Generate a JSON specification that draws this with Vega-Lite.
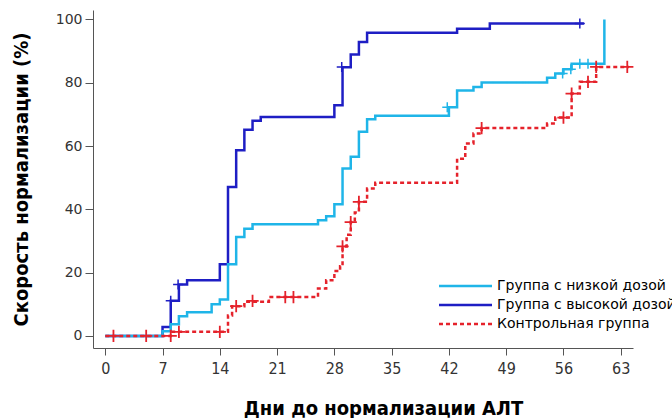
{
  "$schema": "https://vega.github.io/schema/vega-lite/v6.json",
  "width": 540,
  "height": 338,
  "autosize": {"type": "none"},
  "padding": {"left": 93, "top": 10, "right": 39, "bottom": 70},
  "background": "white",
  "config": {
    "view": {"stroke": null},
    "axis": {"grid": false, "domainColor": "#555555", "tickColor": "#555555", "labelColor": "#333333", "titleColor": "#000000"}
  },
  "data": {
    "values": [
      {"group": "Группа с высокой дозой", "kind": "step", "day": 0, "pct": 0},
      {"group": "Группа с высокой дозой", "kind": "step", "day": 7, "pct": 2.8},
      {"group": "Группа с высокой дозой", "kind": "step", "day": 8, "pct": 11.1},
      {"group": "Группа с высокой дозой", "kind": "step", "day": 9, "pct": 16.3},
      {"group": "Группа с высокой дозой", "kind": "step", "day": 10, "pct": 17.6},
      {"group": "Группа с высокой дозой", "kind": "step", "day": 14, "pct": 22.7},
      {"group": "Группа с высокой дозой", "kind": "step", "day": 15, "pct": 47.1},
      {"group": "Группа с высокой дозой", "kind": "step", "day": 16, "pct": 58.7},
      {"group": "Группа с высокой дозой", "kind": "step", "day": 17, "pct": 65.2},
      {"group": "Группа с высокой дозой", "kind": "step", "day": 18, "pct": 68},
      {"group": "Группа с высокой дозой", "kind": "step", "day": 19, "pct": 69.2},
      {"group": "Группа с высокой дозой", "kind": "step", "day": 28, "pct": 72.9},
      {"group": "Группа с высокой дозой", "kind": "step", "day": 29, "pct": 84.9},
      {"group": "Группа с высокой дозой", "kind": "step", "day": 30, "pct": 88.9},
      {"group": "Группа с высокой дозой", "kind": "step", "day": 31, "pct": 92.9},
      {"group": "Группа с высокой дозой", "kind": "step", "day": 32, "pct": 95.8},
      {"group": "Группа с высокой дозой", "kind": "step", "day": 43, "pct": 97.1},
      {"group": "Группа с высокой дозой", "kind": "step", "day": 47, "pct": 98.7},
      {"group": "Группа с высокой дозой", "kind": "step", "day": 58.5, "pct": 98.7},
      {"group": "Группа с низкой дозой", "kind": "step", "day": 0, "pct": 0},
      {"group": "Группа с низкой дозой", "kind": "step", "day": 7, "pct": 1.5},
      {"group": "Группа с низкой дозой", "kind": "step", "day": 8, "pct": 3.7},
      {"group": "Группа с низкой дозой", "kind": "step", "day": 9, "pct": 6.2},
      {"group": "Группа с низкой дозой", "kind": "step", "day": 10, "pct": 7.5},
      {"group": "Группа с низкой дозой", "kind": "step", "day": 13, "pct": 10},
      {"group": "Группа с низкой дозой", "kind": "step", "day": 14, "pct": 11.5},
      {"group": "Группа с низкой дозой", "kind": "step", "day": 15, "pct": 22.7},
      {"group": "Группа с низкой дозой", "kind": "step", "day": 16, "pct": 31.3},
      {"group": "Группа с низкой дозой", "kind": "step", "day": 17, "pct": 33.9},
      {"group": "Группа с низкой дозой", "kind": "step", "day": 18, "pct": 35.3},
      {"group": "Группа с низкой дозой", "kind": "step", "day": 26, "pct": 36.6},
      {"group": "Группа с низкой дозой", "kind": "step", "day": 27, "pct": 37.8},
      {"group": "Группа с низкой дозой", "kind": "step", "day": 28, "pct": 41.6},
      {"group": "Группа с низкой дозой", "kind": "step", "day": 29, "pct": 52.9},
      {"group": "Группа с низкой дозой", "kind": "step", "day": 30, "pct": 56.6},
      {"group": "Группа с низкой дозой", "kind": "step", "day": 31, "pct": 64.5},
      {"group": "Группа с низкой дозой", "kind": "step", "day": 32, "pct": 68.5},
      {"group": "Группа с низкой дозой", "kind": "step", "day": 33, "pct": 69.6},
      {"group": "Группа с низкой дозой", "kind": "step", "day": 42, "pct": 72.3},
      {"group": "Группа с низкой дозой", "kind": "step", "day": 43, "pct": 77.6},
      {"group": "Группа с низкой дозой", "kind": "step", "day": 45, "pct": 78.7},
      {"group": "Группа с низкой дозой", "kind": "step", "day": 46, "pct": 80.1},
      {"group": "Группа с низкой дозой", "kind": "step", "day": 54, "pct": 81.6},
      {"group": "Группа с низкой дозой", "kind": "step", "day": 55, "pct": 82.9},
      {"group": "Группа с низкой дозой", "kind": "step", "day": 56, "pct": 84.3},
      {"group": "Группа с низкой дозой", "kind": "step", "day": 57, "pct": 86},
      {"group": "Группа с низкой дозой", "kind": "step", "day": 61, "pct": 100},
      {"group": "Контрольная группа", "kind": "step", "day": 0, "pct": 0},
      {"group": "Контрольная группа", "kind": "step", "day": 8, "pct": 1.3},
      {"group": "Контрольная группа", "kind": "step", "day": 15, "pct": 6.5},
      {"group": "Контрольная группа", "kind": "step", "day": 15.5, "pct": 9.4},
      {"group": "Контрольная группа", "kind": "step", "day": 17, "pct": 10.8},
      {"group": "Контрольная группа", "kind": "step", "day": 20, "pct": 12.3},
      {"group": "Контрольная группа", "kind": "step", "day": 26, "pct": 15},
      {"group": "Контрольная группа", "kind": "step", "day": 27, "pct": 17.6},
      {"group": "Контрольная группа", "kind": "step", "day": 28, "pct": 20.5},
      {"group": "Контрольная группа", "kind": "step", "day": 28.7, "pct": 22},
      {"group": "Контрольная группа", "kind": "step", "day": 29, "pct": 28.3},
      {"group": "Контрольная группа", "kind": "step", "day": 29.5, "pct": 32},
      {"group": "Контрольная группа", "kind": "step", "day": 30, "pct": 36},
      {"group": "Контрольная группа", "kind": "step", "day": 30.5, "pct": 39},
      {"group": "Контрольная группа", "kind": "step", "day": 31, "pct": 42.4},
      {"group": "Контрольная группа", "kind": "step", "day": 32, "pct": 46.6},
      {"group": "Контрольная группа", "kind": "step", "day": 33, "pct": 48.4},
      {"group": "Контрольная группа", "kind": "step", "day": 43, "pct": 56},
      {"group": "Контрольная группа", "kind": "step", "day": 44, "pct": 60.8},
      {"group": "Контрольная группа", "kind": "step", "day": 45, "pct": 64},
      {"group": "Контрольная группа", "kind": "step", "day": 46, "pct": 65.7},
      {"group": "Контрольная группа", "kind": "step", "day": 54, "pct": 67.1},
      {"group": "Контрольная группа", "kind": "step", "day": 55, "pct": 69},
      {"group": "Контрольная группа", "kind": "step", "day": 57, "pct": 76.6},
      {"group": "Контрольная группа", "kind": "step", "day": 58, "pct": 80.3},
      {"group": "Контрольная группа", "kind": "step", "day": 60, "pct": 85},
      {"group": "Контрольная группа", "kind": "step", "day": 64, "pct": 85},
      {"group": "Группа с высокой дозой", "kind": "censor", "day": 8, "pct": 11.1},
      {"group": "Группа с высокой дозой", "kind": "censor", "day": 8.9, "pct": 16.3},
      {"group": "Группа с высокой дозой", "kind": "censor", "day": 28.9, "pct": 85},
      {"group": "Группа с высокой дозой", "kind": "censor", "day": 58, "pct": 98.7},
      {"group": "Группа с низкой дозой", "kind": "censor", "day": 41.8, "pct": 72.3},
      {"group": "Группа с низкой дозой", "kind": "censor", "day": 55.9, "pct": 82.9},
      {"group": "Группа с низкой дозой", "kind": "censor", "day": 56.9, "pct": 84.3},
      {"group": "Группа с низкой дозой", "kind": "censor", "day": 58, "pct": 86},
      {"group": "Группа с низкой дозой", "kind": "censor", "day": 59, "pct": 86},
      {"group": "Контрольная группа", "kind": "censor", "day": 1, "pct": 0},
      {"group": "Контрольная группа", "kind": "censor", "day": 5, "pct": 0},
      {"group": "Контрольная группа", "kind": "censor", "day": 8, "pct": 0},
      {"group": "Контрольная группа", "kind": "censor", "day": 9, "pct": 1.3},
      {"group": "Контрольная группа", "kind": "censor", "day": 14, "pct": 1.3},
      {"group": "Контрольная группа", "kind": "censor", "day": 16, "pct": 9.4},
      {"group": "Контрольная группа", "kind": "censor", "day": 18, "pct": 11.1},
      {"group": "Контрольная группа", "kind": "censor", "day": 22, "pct": 12.3},
      {"group": "Контрольная группа", "kind": "censor", "day": 23, "pct": 12.3},
      {"group": "Контрольная группа", "kind": "censor", "day": 29, "pct": 28.3},
      {"group": "Контрольная группа", "kind": "censor", "day": 30, "pct": 36},
      {"group": "Контрольная группа", "kind": "censor", "day": 31, "pct": 42.4},
      {"group": "Контрольная группа", "kind": "censor", "day": 46, "pct": 65.7},
      {"group": "Контрольная группа", "kind": "censor", "day": 56, "pct": 69},
      {"group": "Контрольная группа", "kind": "censor", "day": 57, "pct": 76.6},
      {"group": "Контрольная группа", "kind": "censor", "day": 59, "pct": 80.3},
      {"group": "Контрольная группа", "kind": "censor", "day": 60, "pct": 85},
      {"group": "Контрольная группа", "kind": "censor", "day": 63.8, "pct": 85}
    ]
  },
  "encoding": {
    "x": {
      "field": "day", "type": "quantitative",
      "scale": {"domain": [-1.5, 64.5], "nice": false, "zero": false},
      "axis": {
        "values": [0, 7, 14, 21, 28, 35, 42, 49, 56, 63],
        "title": "Дни до нормализации АЛТ",
        "titleFont": "Liberation Sans Narrow, DejaVu Sans Condensed, sans-serif",
        "titleFontSize": 20, "titleFontWeight": "bold",
        "titleX": 290, "titleY": 66, "titleBaseline": "alphabetic", "titleAlign": "center",
        "labelFont": "Liberation Sans Narrow, DejaVu Sans Condensed, sans-serif",
        "labelFontSize": 16, "tickSize": 7, "labelPadding": 5
      }
    },
    "y": {
      "field": "pct", "type": "quantitative",
      "scale": {"domain": [-3.8, 103], "nice": false, "zero": false},
      "axis": {
        "values": [0, 20, 40, 60, 80, 100],
        "title": "Скорость нормализации (%)",
        "titleFont": "Liberation Sans Narrow, DejaVu Sans Condensed, sans-serif",
        "titleFontSize": 20, "titleFontWeight": "bold",
        "titleX": -66, "titleBaseline": "alphabetic",
        "labelFont": "DejaVu Sans", "labelFontSize": 14, "tickSize": 8, "labelPadding": 3
      }
    },
    "color": {
      "field": "group", "type": "nominal",
      "scale": {
        "domain": ["Группа с низкой дозой", "Группа с высокой дозой", "Контрольная группа"],
        "range": ["#1fb5e8", "#1e1ec4", "#e5222b"]
      },
      "legend": {
        "title": null, "orient": "none", "legendX": 344, "legendY": 269,
        "symbolType": "M-1,0H9.6", "symbolSize": 100, "symbolStrokeWidth": 2.5,
        "labelFont": "DejaVu Sans", "labelFontSize": 14, "labelColor": "#000000",
        "labelOffset": 46, "rowPadding": 5, "labelLimit": 400
      }
    }
  },
  "layer": [
    {
      "transform": [{"filter": "datum.kind === 'step'"}],
      "mark": {"type": "line", "interpolate": "step-after", "strokeWidth": 2.5},
      "encoding": {
        "strokeDash": {
          "field": "group", "type": "nominal",
          "scale": {
            "domain": ["Группа с низкой дозой", "Группа с высокой дозой", "Контрольная группа"],
            "range": [[1, 0], [1, 0], [4, 3]]
          },
          "legend": {
            "title": null, "orient": "none", "legendX": 344, "legendY": 269,
            "symbolType": "M-1,0H9.6", "symbolSize": 100, "symbolStrokeWidth": 2.5,
            "labelFont": "DejaVu Sans", "labelFontSize": 14, "labelColor": "#000000",
            "labelOffset": 46, "rowPadding": 5, "labelLimit": 400
          }
        }
      }
    },
    {
      "transform": [{"filter": "datum.kind === 'censor' && datum.group !== 'Контрольная группа'"}],
      "mark": {"type": "point", "shape": "M-1,0H1M0,-1V1", "filled": false, "strokeWidth": 1.5, "size": 100, "opacity": 1}
    },
    {
      "transform": [{"filter": "datum.kind === 'censor' && datum.group === 'Контрольная группа'"}],
      "mark": {"type": "point", "shape": "M-1,0H1M0,-1V1", "filled": false, "strokeWidth": 1.8, "size": 150, "opacity": 1}
    }
  ]
}
